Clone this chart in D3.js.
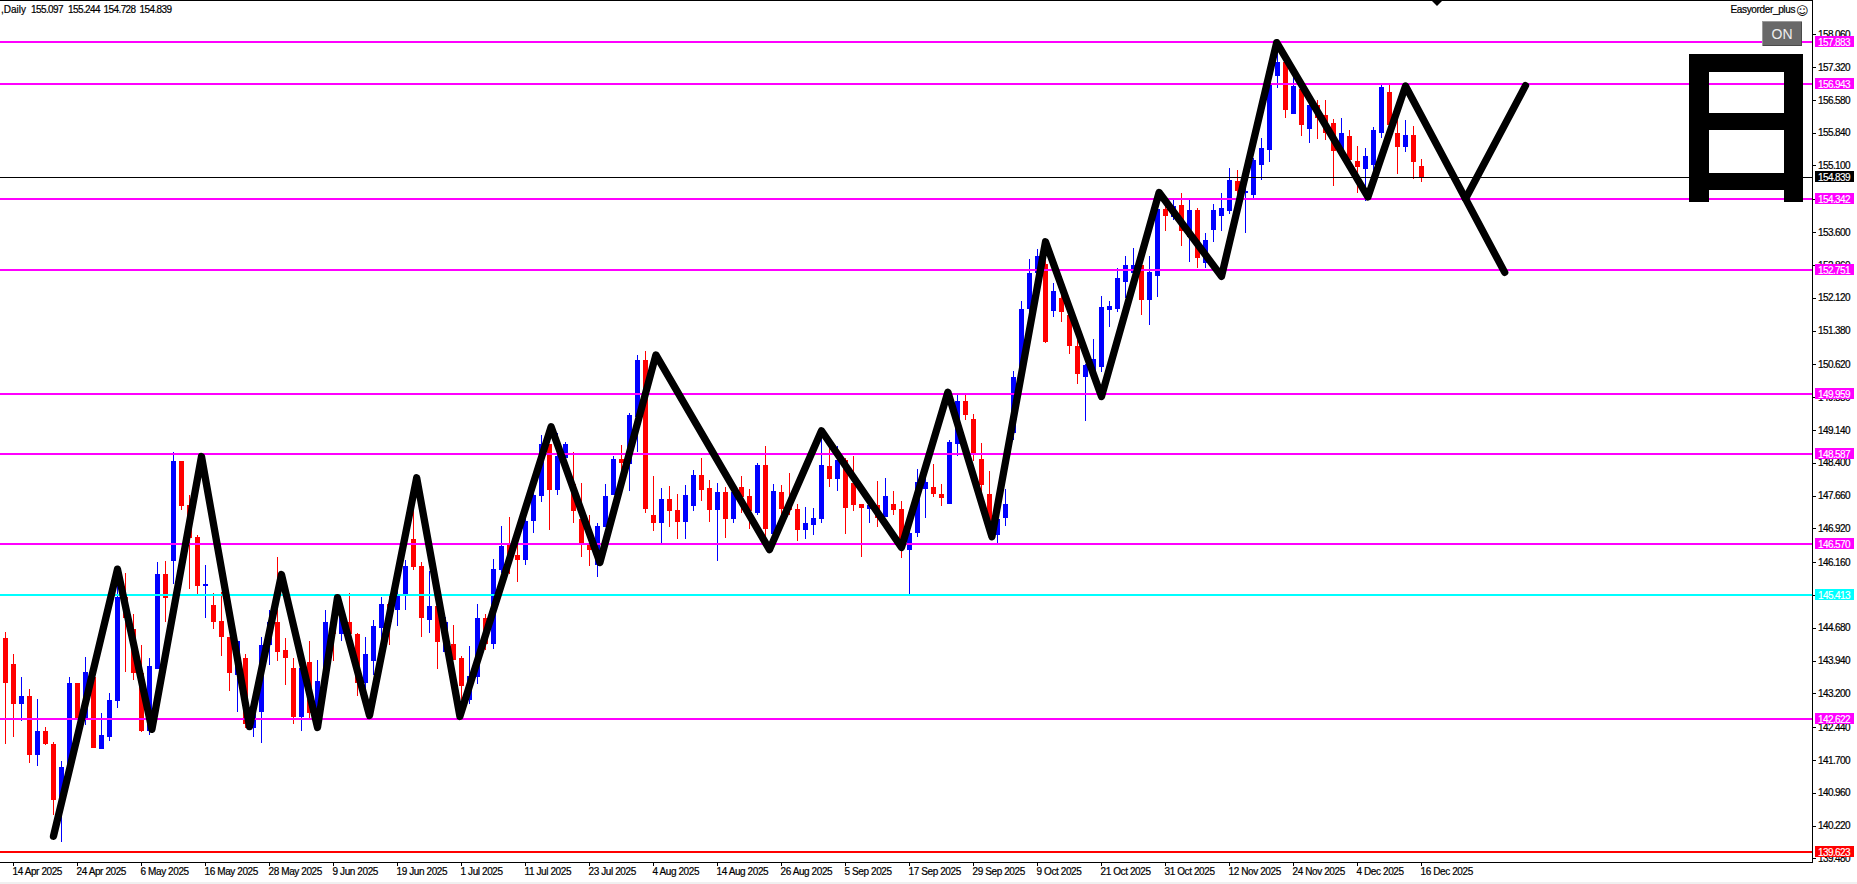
<!DOCTYPE html>
<html>
<head>
<meta charset="utf-8">
<script src="https://cdn.jsdelivr.net/npm/d3@7"></script>
<style>
html,body{margin:0;padding:0;background:#fff;overflow:hidden}
svg{display:block}
text{font-family:"Liberation Sans",Arial,sans-serif;font-size:10px;fill:#000}
.axis path{display:none}
.axis line{stroke:#000;shape-rendering:crispEdges}
.price text{letter-spacing:-.6px;stroke:#000;stroke-width:.2px}
.date text{letter-spacing:-.4px;stroke:#000;stroke-width:.2px}
.h{stroke:#000;stroke-width:.2px}
</style>
</head>
<body>
<svg id="c" width="1857" height="884"></svg>
<script>
const opens=[144.44,143.87,142.95,143.13,141.80,142.36,142.05,140.79,141.53,143.44,
142.59,143.56,141.94,142.21,143.02,145.38,144.64,143.67,142.36,143.76,
145.90,146.19,148.44,147.45,146.73,145.63,145.20,144.84,144.48,143.62,
143.99,142.41,142.79,144.28,144.80,144.17,143.78,142.66,143.90,142.73,
143.47,144.82,144.53,144.80,144.53,143.44,143.94,144.68,145.22,145.07,
145.43,146.67,146.08,144.86,145.18,144.14,144.32,143.99,143.06,143.58,
144.89,144.32,145.99,146.58,146.31,146.21,147.09,147.66,148.83,147.79,
148.51,147.93,147.12,146.55,146.10,146.96,147.68,148.49,148.38,149.44,
150.72,147.21,147.05,147.59,147.34,147.07,147.43,148.13,147.84,147.34,
147.75,147.12,147.86,147.66,147.27,148.35,146.80,147.75,147.41,147.36,
146.89,147.00,147.14,148.33,148.04,148.47,147.95,147.48,147.36,147.45,
147.18,147.48,147.36,146.44,146.82,147.81,147.86,147.70,147.48,148.83,
149.80,149.39,148.49,147.70,146.78,147.16,149.08,150.27,151.87,152.68,
152.88,151.82,152.12,151.73,151.04,150.34,150.43,150.56,151.85,151.87,
152.48,152.68,152.86,152.07,152.61,154.12,153.94,154.21,153.49,154.10,
152.90,153.65,153.96,154.08,154.75,154.48,154.44,155.11,155.45,157.12,
157.43,156.26,156.82,155.92,156.46,156.24,156.06,155.45,155.77,155.20,
155.02,155.11,155.83,156.76,155.83,155.52,155.79,155.097];
const highs=[144.59,144.08,143.58,143.29,143.08,142.45,142.11,141.67,143.58,143.44,
144.03,143.56,142.75,143.20,145.65,145.92,144.98,144.28,143.99,146.17,
146.19,148.65,148.44,147.68,146.76,146.10,145.47,145.49,144.48,144.39,
144.08,142.73,144.46,145.07,146.28,144.44,143.99,143.78,144.39,143.96,
145.09,144.82,145.29,145.47,144.55,144.48,144.86,145.38,145.45,145.61,
146.21,147.34,146.17,145.95,145.18,144.93,144.75,144.05,144.26,145.22,
144.98,146.24,146.98,147.18,146.58,147.23,147.79,149.03,148.83,149.08,
148.87,148.65,147.95,147.21,147.03,147.93,148.56,148.81,149.53,150.83,
150.92,148.09,147.84,147.88,147.70,147.90,148.24,148.51,148.02,147.95,
147.86,147.79,148.11,147.81,148.40,148.78,147.93,147.90,148.17,147.48,
147.41,147.39,148.99,148.99,148.78,148.51,148.56,147.48,147.63,147.99,
148.06,147.77,147.54,147.05,148.26,148.24,148.38,147.93,148.92,149.93,
149.93,149.50,148.85,148.22,147.45,147.81,150.47,152.05,153.00,153.22,
153.36,152.45,152.61,152.07,151.17,150.63,151.19,152.16,152.05,152.79,
153.06,153.24,152.86,153.06,154.32,154.32,154.37,154.48,154.32,154.14,
153.58,154.23,154.48,155.05,155.00,154.93,155.27,155.72,157.03,157.70,
157.43,157.09,156.82,156.58,156.58,156.58,156.15,156.17,155.90,155.54,
155.50,155.97,156.91,156.91,156.13,156.13,155.99,155.244];
const lows=[142.05,142.21,142.57,141.62,141.57,142.03,140.45,139.86,141.44,142.59,
142.48,141.96,141.94,142.12,142.86,143.69,143.51,142.32,142.27,143.74,
144.80,145.67,147.34,145.56,145.43,144.89,144.64,144.05,143.26,142.77,
142.41,142.21,142.09,143.83,143.94,143.40,142.52,142.36,142.59,142.61,
143.47,143.94,144.37,144.53,143.15,143.29,143.62,144.41,144.30,144.71,
145.09,145.99,144.48,144.57,143.74,144.14,143.96,143.06,142.95,143.42,
144.17,144.21,145.92,145.88,145.72,146.10,146.82,147.52,146.89,147.68,
148.51,147.05,146.28,146.08,145.83,146.96,147.68,148.02,147.77,148.63,
147.27,146.85,146.60,146.96,146.67,146.69,147.32,147.54,147.07,146.19,
146.71,147.05,147.27,146.91,147.21,146.67,146.67,147.23,147.23,146.64,
146.69,146.76,147.03,147.86,147.77,146.80,147.32,146.28,147.05,146.96,
147.18,147.21,146.26,145.45,146.73,147.16,147.63,147.43,147.48,148.54,
149.37,148.44,147.72,146.78,146.55,146.98,148.92,150.16,151.80,152.59,
151.10,151.69,151.58,150.86,150.18,149.35,150.34,150.45,151.46,151.80,
152.12,152.45,151.73,151.51,152.14,153.63,153.87,153.29,152.93,152.79,
152.79,153.38,153.63,154.01,154.17,153.58,154.37,154.77,155.18,156.85,
156.17,156.26,155.77,155.61,155.70,155.68,154.64,155.38,155.16,154.48,
154.30,154.89,155.72,155.97,154.91,155.41,154.80,154.728];
const closes=[143.44,142.95,143.13,141.80,142.36,142.05,140.79,141.53,143.44,142.59,
143.69,141.96,142.27,143.04,145.38,144.89,143.65,142.36,143.81,145.90,
145.34,148.44,147.43,146.71,145.63,145.67,144.82,144.46,143.65,144.39,
142.52,142.73,144.30,144.82,144.14,143.99,142.66,143.78,142.75,143.49,
144.82,144.53,145.09,144.53,143.44,144.08,144.71,145.22,144.80,145.43,
146.08,146.06,144.89,145.18,144.35,144.80,143.96,143.36,143.60,144.91,
144.32,146.01,146.53,146.31,146.21,147.09,147.68,148.83,147.79,148.54,
148.83,147.32,146.60,146.44,146.98,147.66,148.49,148.40,149.48,150.72,
147.36,147.05,147.59,147.32,147.07,147.68,148.13,147.79,147.34,147.75,
147.14,147.75,147.63,147.30,148.35,146.91,147.77,147.36,147.34,146.89,
147.03,147.16,148.35,148.04,148.47,147.39,147.45,147.39,147.45,147.16,
147.66,147.34,146.67,146.82,147.97,147.97,147.70,147.61,148.87,149.80,
149.48,148.58,147.90,147.05,147.14,147.48,150.34,151.87,152.68,153.06,
151.13,152.27,151.80,151.04,150.40,150.61,150.74,151.91,151.94,152.57,
152.86,152.86,152.07,152.70,154.12,153.96,154.19,153.63,154.10,153.02,
153.42,154.10,154.14,154.78,154.53,154.53,155.23,155.49,156.91,157.43,
156.35,156.89,156.01,156.46,156.17,155.83,155.43,155.83,155.23,155.07,
155.32,155.90,156.87,156.01,155.52,155.79,155.18,154.839];

const dateLabels=["14 Apr 2025","24 Apr 2025","6 May 2025","16 May 2025","28 May 2025","9 Jun 2025","19 Jun 2025","1 Jul 2025","11 Jul 2025","23 Jul 2025","4 Aug 2025","14 Aug 2025","26 Aug 2025","5 Sep 2025","17 Sep 2025","29 Sep 2025","9 Oct 2025","21 Oct 2025","31 Oct 2025","12 Nov 2025","24 Nov 2025","4 Dec 2025","16 Dec 2025"];
const dateBars=[1,9,17,25,33,41,49,57,65,73,81,89,97,105,113,121,129,137,145,153,161,169,177];
const priceTicks=[158.06,157.32,156.58,155.84,155.10,154.34,153.60,152.86,152.12,151.38,150.62,149.88,149.14,148.40,147.66,146.92,146.16,145.42,144.68,143.94,143.20,142.44,141.70,140.96,140.22,139.48];
const levelValues=[157.883,156.943,154.342,152.751,149.959,148.587,146.570,145.413,142.622,139.623];
const levelColors=["#ff00ff","#ff00ff","#ff00ff","#ff00ff","#ff00ff","#ff00ff","#ff00ff","#00ffff","#ff00ff","#ff0000"];
const lastPrice=154.839;
const zigzagBars=[6,14,18.3,24.5,30.5,34.5,39,41.5,45.5,51.4,56.8,68.2,74.3,81.3,95.5,102,112,117.8,123.3,130,137,144.2,152,158.9,170.3,175,187.4];
const zigzagPrices=[139.98,146.00,142.39,148.54,142.45,145.88,142.43,145.36,142.70,148.06,142.68,149.21,146.15,150.83,146.44,149.12,146.49,149.99,146.73,153.38,149.89,154.49,152.60,157.87,154.39,156.89,152.69];
const branchBars=[182.5,190.0];
const branchPrices=[154.35,156.90];
const headerParts=[",Daily","155.097","155.244","154.728","154.839"];
const headerOffsets=[1,31,68,103.6,139.5];
const headerSpacing=["0px","-.6px","-.6px","-.6px","-.6px"];

const svg=d3.select("#c");
const axisX=1812, axisY=862;
const x=d3.scaleLinear().domain([0,1]).range([5,13]);
const y=d3.scaleLinear().domain([139.48,157.32]).range([858.4,67]);
const UP="#0000ff", DOWN="#ff0000";

// frame
svg.append("rect").attr("x",0).attr("y",882).attr("width",1857).attr("height",2).attr("fill","#f0f0f0");
svg.append("rect").attr("x",0).attr("y",0).attr("width",axisX+1).attr("height",1).attr("fill","#000");
svg.append("rect").attr("x",0).attr("y",axisY).attr("width",axisX+1).attr("height",1).attr("fill","#000");
svg.append("rect").attr("x",axisX).attr("y",0).attr("width",1).attr("height",axisY+1).attr("fill","#000");

// axes
const yAxis=d3.axisRight(y).tickValues(priceTicks).tickSize(4).tickPadding(2).tickFormat(d3.format(".3f"));
const gy=svg.append("g").attr("class","axis price").attr("transform",`translate(${axisX},0)`).call(yAxis);
gy.selectAll("text").attr("x",6);
const xAxis=d3.axisBottom(x).tickValues(dateBars).tickSize(4).tickFormat((d,i)=>dateLabels[i]);
const gx=svg.append("g").attr("class","axis date").attr("transform",`translate(0,${axisY})`).call(xAxis);
gx.selectAll("text").attr("text-anchor","start").attr("x",-1).attr("y",13).attr("dy",0);

// candles
const bars=d3.range(opens.length);
const candles=svg.append("g").attr("shape-rendering","crispEdges");
candles.selectAll("rect.w").data(bars).join("rect").attr("class","w")
  .attr("x",i=>x(i)).attr("width",1)
  .attr("y",i=>Math.round(y(highs[i])))
  .attr("height",i=>Math.max(1,Math.round(y(lows[i]))-Math.round(y(highs[i]))))
  .attr("fill",i=>closes[i]>=opens[i]?UP:DOWN);
candles.selectAll("rect.b").data(bars).join("rect").attr("class","b")
  .attr("x",i=>x(i)-2).attr("width",5)
  .attr("y",i=>Math.round(y(Math.max(opens[i],closes[i]))))
  .attr("height",i=>Math.max(2,Math.round(y(Math.min(opens[i],closes[i])))-Math.round(y(Math.max(opens[i],closes[i])))))
  .attr("fill",i=>closes[i]>=opens[i]?UP:DOWN);

// horizontal levels
const levels=svg.append("g").attr("shape-rendering","crispEdges");
levels.selectAll("line").data(levelValues).join("line")
  .attr("x1",0).attr("x2",axisX)
  .attr("y1",d=>Math.round(y(d))).attr("y2",d=>Math.round(y(d)))
  .attr("stroke",(d,i)=>levelColors[i]).attr("stroke-width",2);
levels.append("line").attr("x1",0).attr("x2",axisX)
  .attr("y1",Math.round(y(lastPrice))+.5).attr("y2",Math.round(y(lastPrice))+.5)
  .attr("stroke","#000").attr("stroke-width",1);

// zigzag
const zz=d3.line().x(d=>x(d[0])+.5).y(d=>y(d[1]));
const zzStyle=s=>s.attr("fill","none").attr("stroke","#000").attr("stroke-width",7.3).attr("stroke-linejoin","round").attr("stroke-linecap","round");
svg.append("path").attr("d",zz(zigzagBars.map((b,i)=>[b,zigzagPrices[i]]))).call(zzStyle);
svg.append("path").attr("d",zz(branchBars.map((b,i)=>[b,branchPrices[i]]))).call(zzStyle);

// the large glyph-like object
const glyph=svg.append("g").attr("fill","#000").attr("shape-rendering","crispEdges");
[[1689,54,114,18],[1689,54,20,148],[1784,54,19,148],[1689,113,114,17],[1689,173,114,17]].forEach(r=>
  glyph.append("rect").attr("x",r[0]).attr("y",r[1]).attr("width",r[2]).attr("height",r[3]));

// price tags
const tags=svg.append("g");
const tagData=levelValues.map((v,i)=>({v,c:levelColors[i]})).concat([{v:lastPrice,c:"#000"}]);
tags.selectAll("rect").data(tagData).join("rect")
  .attr("x",1815).attr("width",39).attr("height",11)
  .attr("y",d=>Math.round(y(d.v))-6).attr("fill",d=>d.c).attr("shape-rendering","crispEdges");
tags.selectAll("text").data(tagData).join("text")
  .attr("x",1818).attr("y",d=>Math.round(y(d.v))+3.5).attr("letter-spacing","-.6px")
  .style("fill","#fff").style("stroke","#fff").style("stroke-width",".15px").text(d=>d.v.toFixed(3));

// ON button
svg.append("rect").attr("x",1762).attr("y",21).attr("width",40).attr("height",25).attr("fill","#9a9a9a").attr("shape-rendering","crispEdges");
svg.append("rect").attr("x",1763).attr("y",22).attr("width",39).attr("height",24).attr("fill","#4a4a4a").attr("shape-rendering","crispEdges");
svg.append("rect").attr("x",1763).attr("y",22).attr("width",38).attr("height",23).attr("fill","#696969").attr("shape-rendering","crispEdges");
svg.append("text").attr("x",1782).attr("y",39).attr("text-anchor","middle").style("font-size","14px").style("fill","#eee").text("ON");

// header text
svg.selectAll("text.h").data(headerParts).join("text").attr("class","h")
  .attr("x",(d,i)=>headerOffsets[i]).attr("y",12.5).attr("letter-spacing",(d,i)=>headerSpacing[i]).text(d=>d);
svg.append("text").attr("class","h").attr("x",1730.5).attr("y",13).attr("letter-spacing","-.35px").text("Easyorder_plus");
svg.append("text").attr("x",1796).attr("y",14.5).style("font-family","DejaVu Sans").style("font-size","12px").text("☺");

// top marker
svg.append("path").attr("d",d3.line()([[1432,1],[1442,1],[1437,6]])+"Z").attr("fill","#000");
</script>
</body>
</html>
